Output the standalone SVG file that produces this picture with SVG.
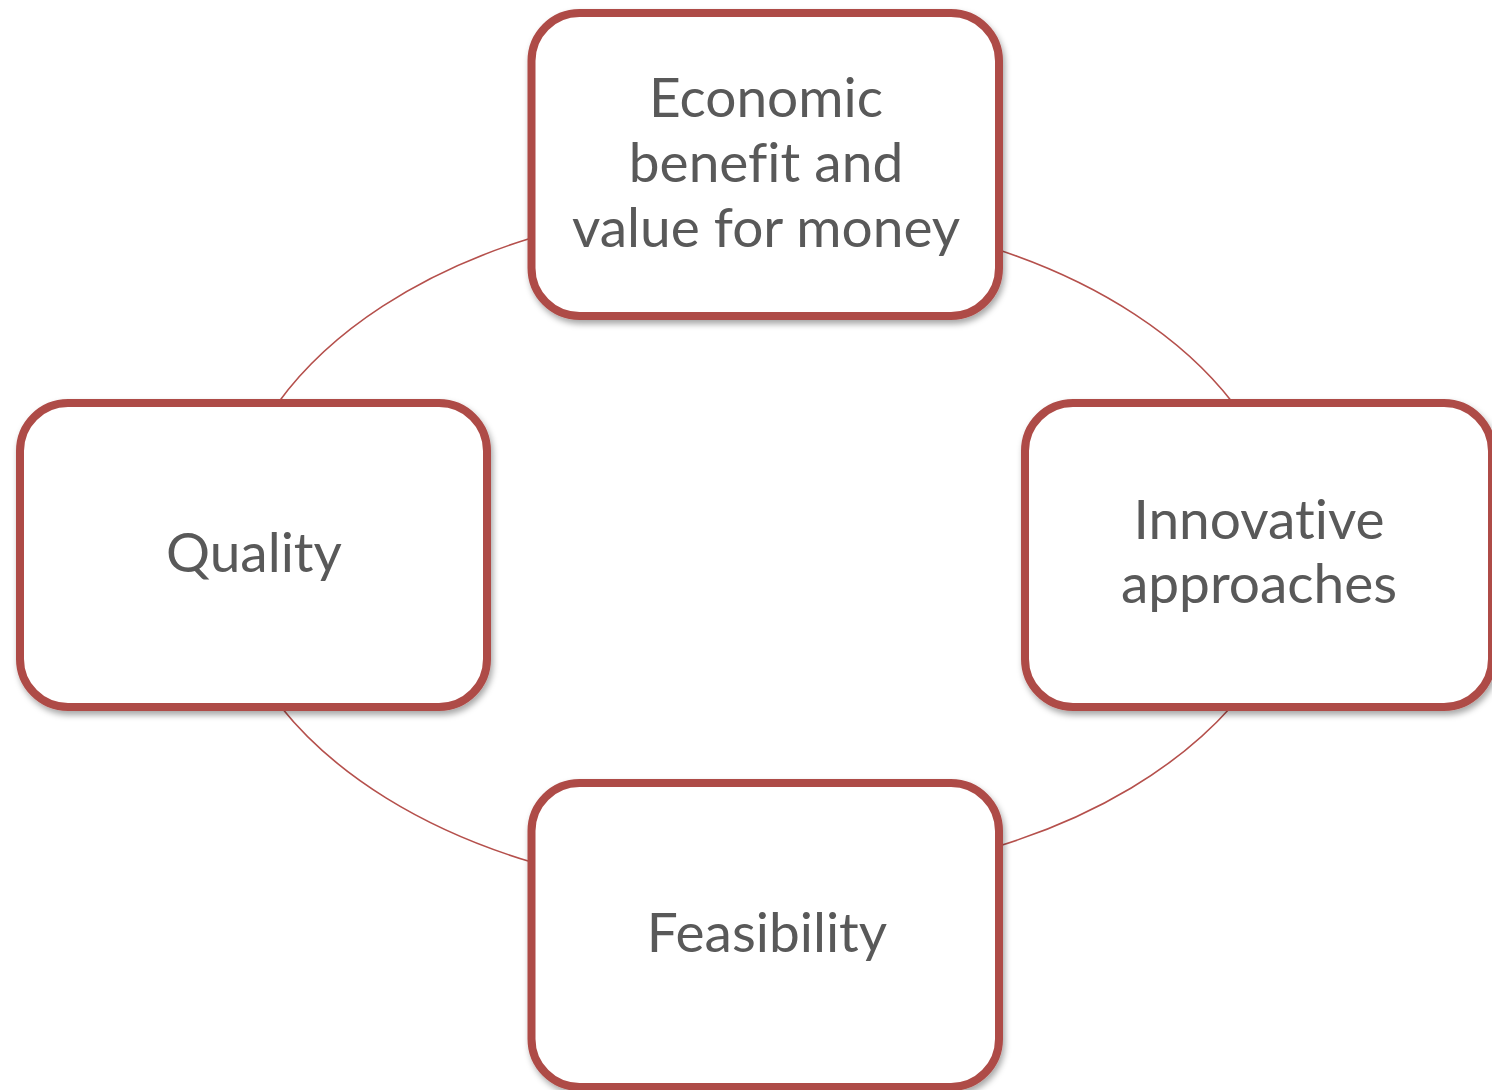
<svg xmlns="http://www.w3.org/2000/svg" width="1492" height="1090" viewBox="0 0 1492 1090">
  <style>
    .box { fill: #ffffff; stroke: #AE4B47; stroke-width: 8; filter: url(#shadow); }
    .lbl { font-family: Lato, "Open Sans", "Liberation Sans", sans-serif; font-size: 55px; fill: #595959; text-anchor: middle; font-variant-ligatures: none; font-feature-settings: "liga" 0, "dlig" 0; }
    .arc { fill: none; stroke: #B5504C; stroke-width: 1.6; }
  </style>
  <defs>
    <filter id="shadow" x="-10%" y="-10%" width="120%" height="125%">
      <feDropShadow dx="2" dy="4" stdDeviation="3" flood-color="#000000" flood-opacity="0.35"/>
    </filter>
  </defs>
  <rect width="1492" height="1090" fill="#ffffff"/>
  <g id="connectors">
    <path class="arc" d="M999,250 A532,346 0 0 1 1233,403"/>
    <path class="arc" d="M1231,707 A532,346 0 0 1 999,846"/>
    <path class="arc" d="M531.5,862 A532,346 0 0 1 281,707"/>
    <path class="arc" d="M278,403 A532,346 0 0 1 531.5,238"/>
  </g>
  <g id="node-economic">
    <rect class="box" x="531.5" y="13" width="467.5" height="303" rx="48" ry="48"/>
    <text class="lbl" x="766" y="117">Economic</text>
    <text class="lbl" x="766" y="182">benefit and</text>
    <text class="lbl" x="766" y="247">value for money</text>
  </g>
  <g id="node-quality">
    <rect class="box" x="20" y="403" width="467" height="304" rx="48" ry="48"/>
    <text class="lbl" x="254" y="572">Quality</text>
  </g>
  <g id="node-innovative">
    <rect class="box" x="1025" y="403" width="467" height="304" rx="48" ry="48"/>
    <text class="lbl" x="1259" y="539">Innovative</text>
    <text class="lbl" x="1259" y="603">approaches</text>
  </g>
  <g id="node-feasibility">
    <rect class="box" x="531.5" y="783" width="467.5" height="304" rx="48" ry="48"/>
    <text class="lbl" x="767" y="952">Feasibility</text>
  </g>
</svg>
